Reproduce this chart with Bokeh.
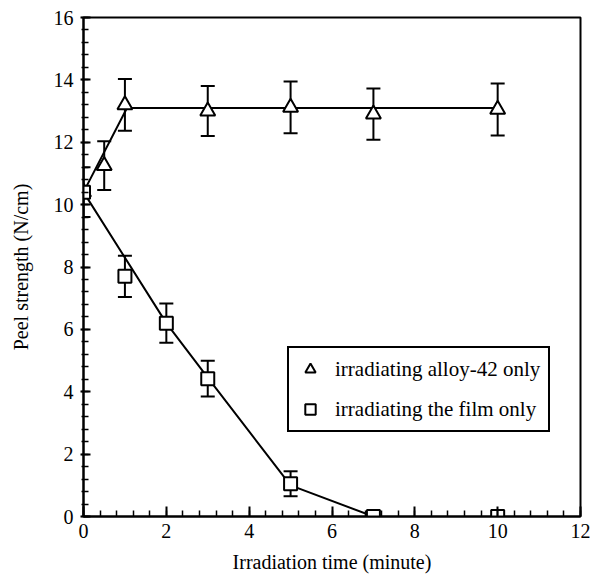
from bokeh.plotting import figure
from bokeh.models import (ColumnDataSource, Whisker, TeeHead, Legend, LegendItem,
                          Range1d, FixedTicker)
from bokeh.embed import file_html
from bokeh.resources import INLINE

# ---- data ----
alloy_time = [0, 0.5, 1, 3, 5, 7, 10]
alloy_peel = [10.4, 11.25, 13.2, 13.0, 13.12, 12.9, 13.05]
alloy_err = [0.8, 0.78, 0.83, 0.8, 0.83, 0.82, 0.83]
alloy_fit_time = [0, 1.05, 10]
alloy_fit_peel = [10.4, 13.1, 13.1]

film_time = [0, 1, 2, 3, 5, 7, 10]
film_peel = [10.4, 7.7, 6.2, 4.42, 1.05, 0, 0]
film_err = [0, 0.66, 0.63, 0.57, 0.4, 0, 0]
film_fit_time = [0, 2, 3, 5, 7]
film_fit_peel = [10.4, 6.2, 4.45, 1.0, 0]

x_ticks = [0, 2, 4, 6, 8, 10, 12]
x_minor = [i * 0.4 for i in range(31)]
y_ticks = [0, 2, 4, 6, 8, 10, 12, 14, 16]
y_minor = [i * 0.4 for i in range(41)]

labels = ["irradiating alloy-42 only", "irradiating the film only"]
x_title = "Irradiation time (minute)"
y_title = "Peel strength (N/cm)"

FONT = "Liberation Serif"

p = figure(width=590, height=578, x_range=Range1d(0, 12), y_range=Range1d(0, 16),
           output_backend="svg", toolbar_location=None,
           min_border_left=83, min_border_right=10, min_border_top=17,
           min_border_bottom=62)
p.xgrid.visible = False
p.ygrid.visible = False
p.outline_line_color = "black"
p.outline_line_width = 2
p.outline_line_alpha = 1
p.background_fill_color = "white"
p.border_fill_color = "white"

# axes
p.xaxis.ticker = FixedTicker(ticks=x_ticks, minor_ticks=x_minor)
p.yaxis.ticker = FixedTicker(ticks=y_ticks, minor_ticks=y_minor)
for ax in (p.xaxis[0], p.yaxis[0]):
    ax.axis_line_color = "black"
    ax.axis_line_width = 2
    ax.major_tick_line_color = "black"
    ax.major_tick_line_width = 2
    ax.minor_tick_line_color = "black"
    ax.minor_tick_line_width = 1.5
    ax.major_label_text_font = FONT
    ax.major_label_text_font_size = "20px"
    ax.major_label_text_color = "black"
    ax.axis_label_text_font = FONT
    ax.axis_label_text_font_size = "20px"
    ax.axis_label_text_font_style = "normal"
    ax.axis_label_text_color = "black"
    ax.major_label_standoff = 7

p.xaxis.major_tick_in = 10
p.xaxis.major_tick_out = 0
p.xaxis.minor_tick_in = 6
p.xaxis.minor_tick_out = 0
p.yaxis.major_tick_in = 7
p.yaxis.major_tick_out = 3
p.yaxis.minor_tick_in = 5
p.yaxis.minor_tick_out = 2
p.xaxis.axis_label = x_title
p.yaxis.axis_label = y_title
p.xaxis.axis_label_standoff = 10
p.yaxis.axis_label_standoff = 19

# error bars
def err_source(xs, ys, es):
    xx, lo, hi = [], [], []
    for x, y, e in zip(xs, ys, es):
        if e > 0:
            xx.append(x); lo.append(y - e); hi.append(y + e)
    return ColumnDataSource(dict(x=xx, lower=lo, upper=hi))

for xs, ys, es in ((alloy_time, alloy_peel, alloy_err), (film_time, film_peel, film_err)):
    src = err_source(xs, ys, es)
    w = Whisker(source=src, base="x", lower="lower", upper="upper", dimension="height",
                line_color="black", line_width=2, level="underlay",
                upper_head=TeeHead(size=14, line_width=2, line_color="black"),
                lower_head=TeeHead(size=14, line_width=2, line_color="black"))
    p.add_layout(w)

# fitted lines
p.line(alloy_fit_time, alloy_fit_peel, line_color="black", line_width=2)
p.line(film_fit_time, film_fit_peel, line_color="black", line_width=2)

# markers
tri = p.scatter(alloy_time, alloy_peel, marker="triangle", size=15,
                fill_color="white", line_color="black", line_width=2)
sq = p.scatter(film_time, film_peel, marker="square", size=13,
               fill_color="white", line_color="black", line_width=2)

legend = Legend(items=[LegendItem(label=labels[0], renderers=[tri]),
                       LegendItem(label=labels[1], renderers=[sq])],
                location=(204, 84), orientation="vertical",
                border_line_color="black", border_line_width=2, border_line_alpha=1,
                background_fill_color="white", background_fill_alpha=1,
                label_text_font=FONT, label_text_font_size="21px",
                label_text_color="black",
                glyph_width=26, glyph_height=26, label_height=26,
                spacing=14, padding=8, margin=0, label_standoff=12)
p.add_layout(legend)

open("out.html", "w").write(file_html(p, INLINE))
